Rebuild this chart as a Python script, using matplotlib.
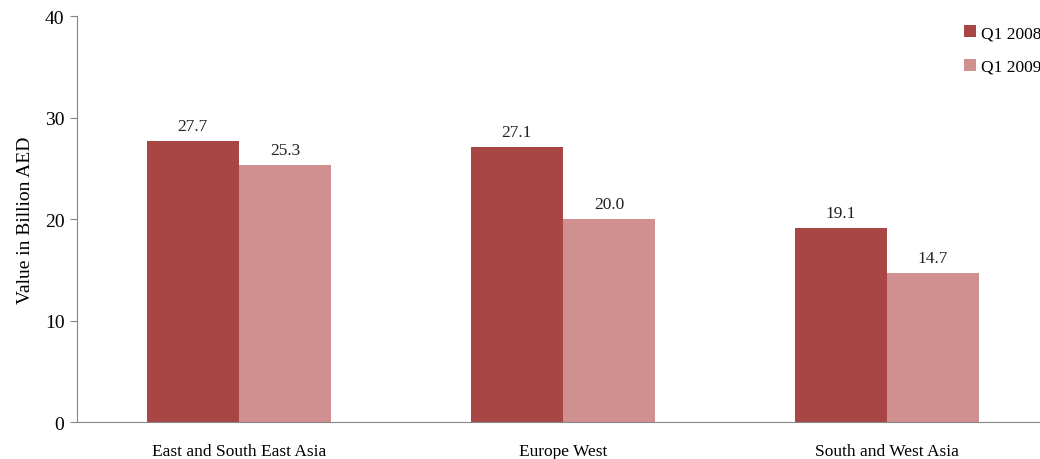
import numpy as np
import matplotlib.pyplot as plt

plt.rcParams['font.family'] = ['Liberation Serif', 'DejaVu Serif']

regions = ['East and South East Asia', 'Europe West', 'South and West Asia']
q1_2008 = [27.7, 27.1, 19.1]
q1_2009 = [25.3, 20.0, 14.7]
series_names = ['Q1 2008', 'Q1 2009']

dark_red = '#A84646'
light_red = '#D09090'
axis_grey = '#868686'

fig = plt.figure(figsize=(10.4, 4.6), dpi=100)
ax = fig.add_axes([0.074, 0.0804, 0.9346, 0.8826])

x = np.arange(len(regions))
w = 0.285
b1 = ax.bar(x - w / 2, q1_2008, w, color=dark_red, label=series_names[0])
b2 = ax.bar(x + w / 2, q1_2009, w, color=light_red, label=series_names[1])

# value labels above each bar
for bars in (b1, b2):
    for rect in bars:
        h = rect.get_height()
        ax.annotate(f'{h:.1f}', (rect.get_x() + rect.get_width() / 2, h),
                    xytext=(0, 5), textcoords='offset points',
                    ha='center', va='bottom', fontsize=12.5, color='#222222')

ax.set_xlim(-0.5, len(regions) - 0.5)
ax.set_ylim(0, 40)
ax.set_yticks([0, 10, 20, 30, 40])
ax.set_xticks(x)
ax.set_xticklabels(regions, fontsize=12.5)
ax.tick_params(axis='x', length=0, pad=15)
ax.tick_params(axis='y', length=5, color=axis_grey, labelsize=14, pad=4)

for side in ('top', 'right'):
    ax.spines[side].set_visible(False)
for side in ('left', 'bottom'):
    ax.spines[side].set_color(axis_grey)

ax.set_ylabel('Value in Billion AED', fontsize=14, labelpad=8)

ax.legend(loc='upper left', bbox_to_anchor=(0.905, 0.995), frameon=False,
          fontsize=12.5, handlelength=0.7, handleheight=0.7, handletextpad=0.3,
          labelspacing=1.0, borderaxespad=0)

fig.savefig('out.png', dpi=100)
